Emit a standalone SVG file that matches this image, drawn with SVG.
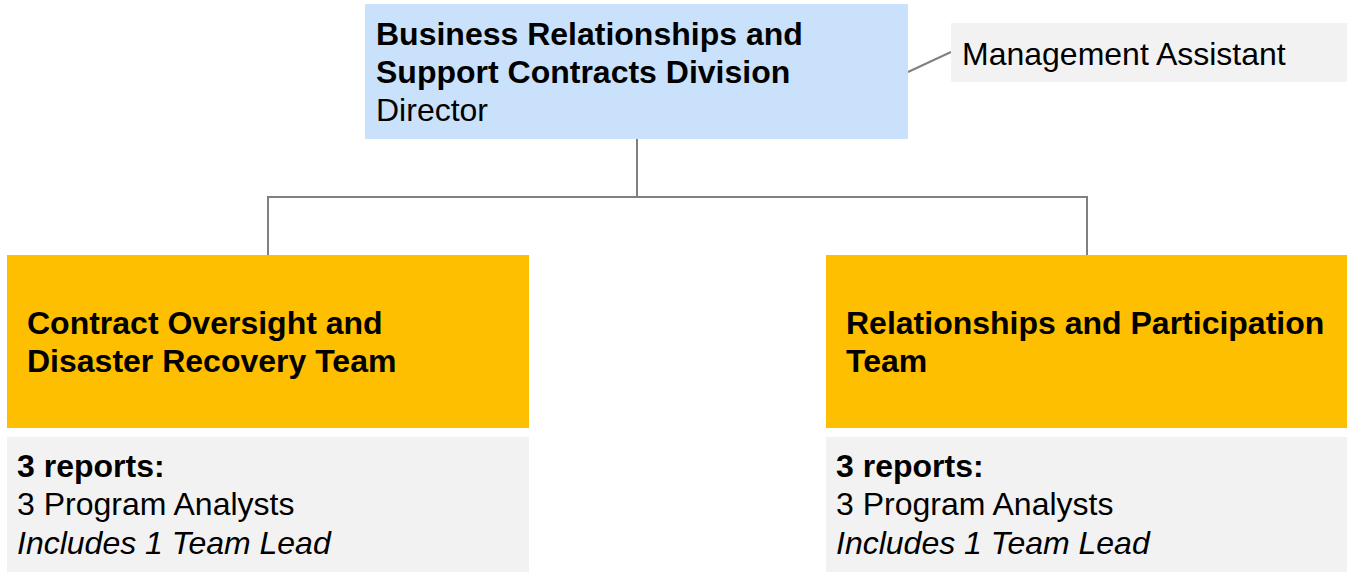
<svg xmlns="http://www.w3.org/2000/svg" width="1347" height="572" viewBox="0 0 1347 572">
<style>
text{font-family:"Liberation Sans",Arial,sans-serif;font-size:32px;fill:#000}
.b{font-weight:bold}
.i{font-style:italic}
.blue{fill:#c9e1fb}
.orange{fill:#fdbf00}
.gray{fill:#f2f2f2}
.conn{stroke:#808080;stroke-width:2;fill:none}
</style>
<rect width="1347" height="572" fill="#fff"/>
<g id="connectors">
<path class="conn" d="M637 139V197M268 255V197H1087V255"/>
<path class="conn" d="M908 72L951 52"/>
</g>
<g id="director">
<rect class="blue" x="365" y="4" width="543" height="135"/>
<text class="b" x="376" y="45">Business Relationships and</text>
<text class="b" x="376" y="83">Support Contracts Division</text>
<text x="376" y="121">Director</text>
</g>
<g id="assistant">
<rect class="gray" x="951" y="23" width="396" height="59"/>
<text x="962" y="65">Management Assistant</text>
</g>
<g id="team-left">
<rect class="orange" x="7" y="255" width="522" height="173"/>
<text class="b" x="27" y="334">Contract Oversight and</text>
<text class="b" x="27" y="372">Disaster Recovery Team</text>
</g>
<g id="reports-left">
<rect class="gray" x="7" y="437" width="522" height="135"/>
<text class="b" x="17" y="477">3 reports:</text>
<text x="17" y="515">3 Program Analysts</text>
<text class="i" x="17" y="554">Includes 1 Team Lead</text>
</g>
<g id="team-right">
<rect class="orange" x="826" y="255" width="521" height="173"/>
<text class="b" x="846" y="334">Relationships and Participation</text>
<text class="b" x="846" y="372">Team</text>
</g>
<g id="reports-right">
<rect class="gray" x="826" y="437" width="521" height="135"/>
<text class="b" x="836" y="477">3 reports:</text>
<text x="836" y="515">3 Program Analysts</text>
<text class="i" x="836" y="554">Includes 1 Team Lead</text>
</g>
</svg>
